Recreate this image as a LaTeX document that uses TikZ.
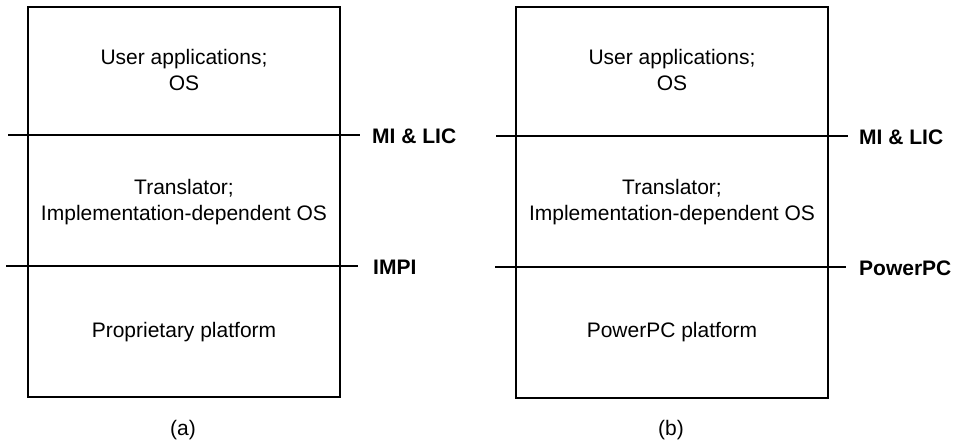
\documentclass[tikz,border=0pt]{standalone}
\usepackage{fontspec}
\setmainfont{Liberation Sans}
\begin{document}
\begin{tikzpicture}[x=1pt,y=-1pt,
  boxline/.style={draw=black,line width=1.2pt},
  layerline/.style={draw=black,line width=1.8pt},
  layertext/.style={font=\fontsize{21}{25.5}\selectfont,align=center,inner sep=0pt},
  iflabel/.style={font=\fontsize{21}{25.5}\selectfont\bfseries,anchor=west,inner sep=0pt},
  caption/.style={font=\fontsize{21}{25.5}\selectfont,inner sep=0pt}]
\useasboundingbox (0,0) rectangle (955,444);
% (a)
\draw[boxline] (28,7) rectangle (340,397);
\coordinate (a1l) at (8,135);  \coordinate (a1r) at (360,135);
\coordinate (a2l) at (6,266);  \coordinate (a2r) at (358,266);
\draw[layerline] (a1l) -- (a1r);
\draw[layerline] (a2l) -- (a2r);
\node[iflabel] (amilic) at (372,136) {MI \& LIC};
\node[iflabel] (aimpi) at (373,267) {IMPI};
\node[layertext] (auser) at (184,70) {User applications;\\OS};
\node[layertext] (atrans) at (184,202) {Translator;\\Implementation-dependent OS};
\node[layertext] (aplat) at (184,332) {Proprietary platform};
\node[caption] (acap) at (183,430) {(a)};
% (b)
\draw[boxline] (516,7) rectangle (828,398);
\coordinate (b1l) at (496,136);  \coordinate (b1r) at (848,136);
\coordinate (b2l) at (495,267);  \coordinate (b2r) at (846,267);
\draw[layerline] (b1l) -- (b1r);
\draw[layerline] (b2l) -- (b2r);
\node[iflabel] (bmilic) at (859,137) {MI \& LIC};
\node[iflabel] (bppc) at (859,268) {PowerPC};
\node[layertext] (buser) at (672,70) {User applications;\\OS};
\node[layertext] (btrans) at (672,202) {Translator;\\Implementation-dependent OS};
\node[layertext] (bplat) at (672,332) {PowerPC platform};
\node[caption] (bcap) at (671,430) {(b)};
\end{tikzpicture}
\end{document}
